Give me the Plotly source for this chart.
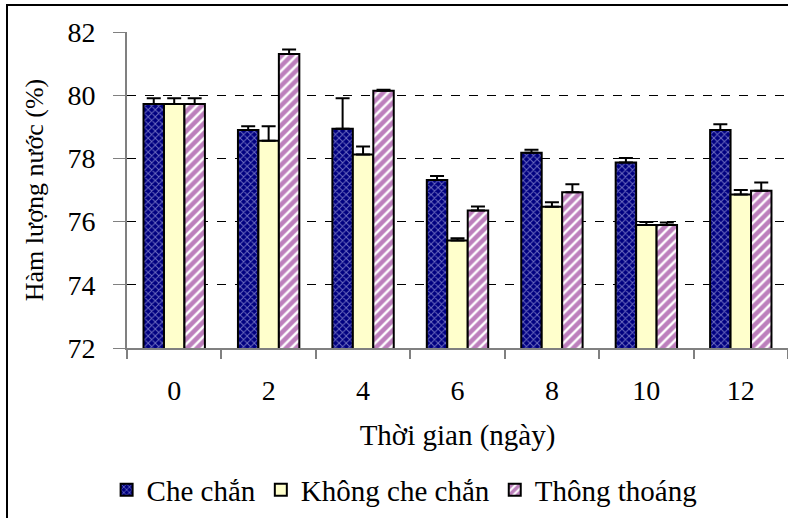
import plotly.graph_objects as go

categories = ["0", "2", "4", "6", "8", "10", "12"]
che_chan = [79.72, 78.9, 78.94, 77.32, 78.18, 77.87, 78.9]
che_chan_err = [0.18, 0.12, 0.96, 0.12, 0.09, 0.14, 0.18]
khong_che_chan = [79.72, 78.56, 78.12, 75.4, 76.47, 75.89, 76.86]
khong_che_chan_err = [0.18, 0.46, 0.26, 0.07, 0.14, 0.1, 0.14]
thong_thoang = [79.72, 81.3, 80.14, 76.35, 76.93, 75.89, 76.98]
thong_thoang_err = [0.18, 0.15, 0.03, 0.13, 0.25, 0.08, 0.26]

font_family = "Liberation Serif, Times New Roman, serif"

def err(vals):
    return dict(type="data", array=vals, arrayminus=[0] * len(vals), symmetric=False,
                color="black", thickness=2, width=7, visible=True)

fig = go.Figure()
fig.add_trace(go.Bar(
    name="Che chắn", x=categories, y=che_chan, error_y=err(che_chan_err),
    marker=dict(color="#1a1a8c", line=dict(color="black", width=2),
                pattern=dict(shape="x", fgcolor="#dcdcff", bgcolor="#000080", size=5, solidity=0.35)),
))
fig.add_trace(go.Bar(
    name="Không che chắn", x=categories, y=khong_che_chan, error_y=err(khong_che_chan_err),
    marker=dict(color="#FFFFCC", line=dict(color="black", width=2)),
))
fig.add_trace(go.Bar(
    name="Thông thoáng", x=categories, y=thong_thoang, error_y=err(thong_thoang_err),
    marker=dict(color="#FFFFFF", line=dict(color="black", width=2),
                pattern=dict(shape="/", fgcolor="#7a007a", bgcolor="#FFFFFF", size=7, solidity=0.65)),
))

fig.update_layout(
    width=788, height=518,
    margin=dict(l=127, r=0, t=32, b=170, autoexpand=False),
    paper_bgcolor="white", plot_bgcolor="white",
    barmode="group", bargap=0.35, bargroupgap=0,
    font=dict(family=font_family, size=26, color="black"),
    showlegend=True,
    legend=dict(orientation="h", x=0.42, xanchor="center", y=-0.449, yanchor="middle",
                font=dict(size=29, family=font_family), itemwidth=30, tracegroupgap=0),
    shapes=[dict(type="rect", xref="paper", yref="paper",
                 x0=(7 - 127) / 661, x1=1.01, y0=-0.6, y1=1 + 27 / 316,
                 line=dict(color="black", width=2), fillcolor="rgba(0,0,0,0)", layer="below")],
)
fig.update_xaxes(
    type="category", showline=True, linecolor="#808080", linewidth=2,
    ticks="outside", tickson="boundaries", ticklen=9, tickcolor="#808080", tickwidth=2,
    tickfont=dict(size=28), ticklabelstandoff=16,
    title=dict(text="Thời gian (ngày)", font=dict(size=29), standoff=20),
    showgrid=False,
)
fig.update_yaxes(
    range=[72, 82], dtick=2, showline=True, linecolor="#808080", linewidth=2,
    ticks="outside", ticklen=12, tickcolor="#808080", tickwidth=1,
    tickfont=dict(size=28), ticklabelstandoff=12,
    showgrid=True, gridcolor="black", gridwidth=1, griddash="dash",
    title=dict(text="Hàm lượng nước (%)", font=dict(size=26), standoff=16),
    zeroline=False,
)
fig.write_html("out.html", config={"displayModeBar": False},
               post_script="document.body.style.margin='0';")
